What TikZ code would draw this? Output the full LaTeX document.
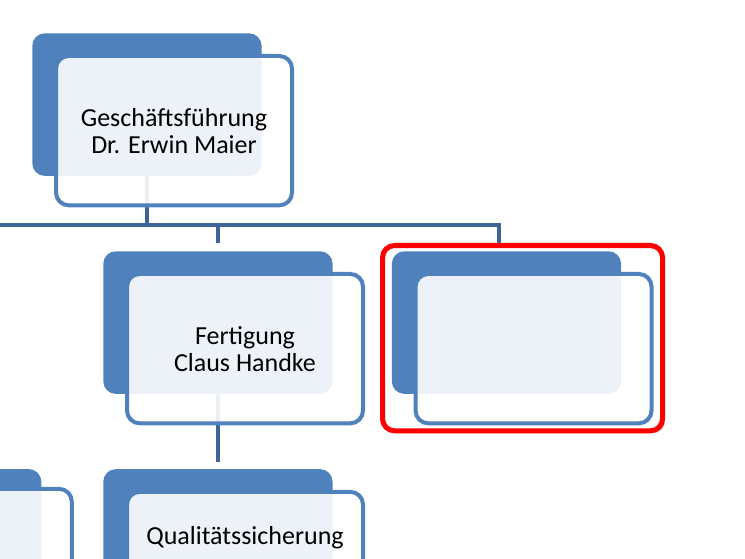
\documentclass[tikz,border=0pt]{standalone}
\usepackage{fontspec}
\setmainfont{Carlito}
\usetikzlibrary{positioning,fit,backgrounds,shadows}

\definecolor{smartblue}{RGB}{79,129,189}
\definecolor{linkblue}{RGB}{62,101,152}

\tikzset{
    back/.style={fill=smartblue, rounded corners=9.5pt, inner sep=0pt,
        minimum width=172pt, minimum height=107pt, anchor=north west},
    front/.style={draw=smartblue, line width=3pt, fill=white, fill opacity=0.9,
        text opacity=1, rounded corners=9.5pt, minimum width=177pt,
        minimum height=112pt, align=center, anchor=north west,
        font=\fontsize{19.5}{20.25}\selectfont, text=black},
    link/.style={draw=linkblue, line width=3.6pt},
    marker/.style={draw=red, line width=3.8pt, fill=white, rounded corners=9pt,
        inner xsep=6.75pt, inner ysep=4.1pt,
        drop shadow={opacity=0.45, shadow xshift=1.8pt, shadow yshift=-1.8pt}}
}

\begin{document}
\begin{tikzpicture}[x=0.75pt,y=-0.75pt]
    \useasboundingbox (0,0) rectangle (745,559);
    \clip (0,0) rectangle (745,559);

    % top level
    \node[back] (gf-back) at (32,33) {};
    \node[front] (gf) at ([shift={(22,21)}]gf-back.north west)
        {Geschäftsführung\\Dr. Erwin Maier};

    % second level
    \node[back] (fert-back) at (103,251) {};
    \node[front] (fert) at ([shift={(22,21)}]fert-back.north west)
        {Fertigung\\Claus Handke};
    \node[back, right=44pt of fert-back] (leer-back) {};
    \node[front] (leer) at ([shift={(22,21)}]leer-back.north west) {};

    % third level
    \node[back, below=56pt of fert-back] (qs-back) {};
    \node[front] (qs) at ([shift={(22,21)}]qs-back.north west)
        {Qualitätssicherung\\\strut\\\strut};
    \node[back, left=46pt of qs-back] (links-back) {};
    \node[front] (links) at ([shift={(22,18)}]links-back.north west) {};

    \begin{pgfonlayer}{background}
        \node[marker, fit=(leer-back)(leer)] (mark) {};

        \coordinate (barL) at (0,225);
        \coordinate (barR) at (499,225);
        \draw[link] (gf-back.center) -- (gf-back.center |- barL);
        \draw[link] (barL) -- (barR) -- (barR |- mark.north);
        \draw[link, shorten >=6pt] (fert-back.north |- barL) -- (fert-back.north);
        \draw[link, shorten >=5pt] (fert-back.center) -- (qs-back.north);
    \end{pgfonlayer}
\end{tikzpicture}
\end{document}
